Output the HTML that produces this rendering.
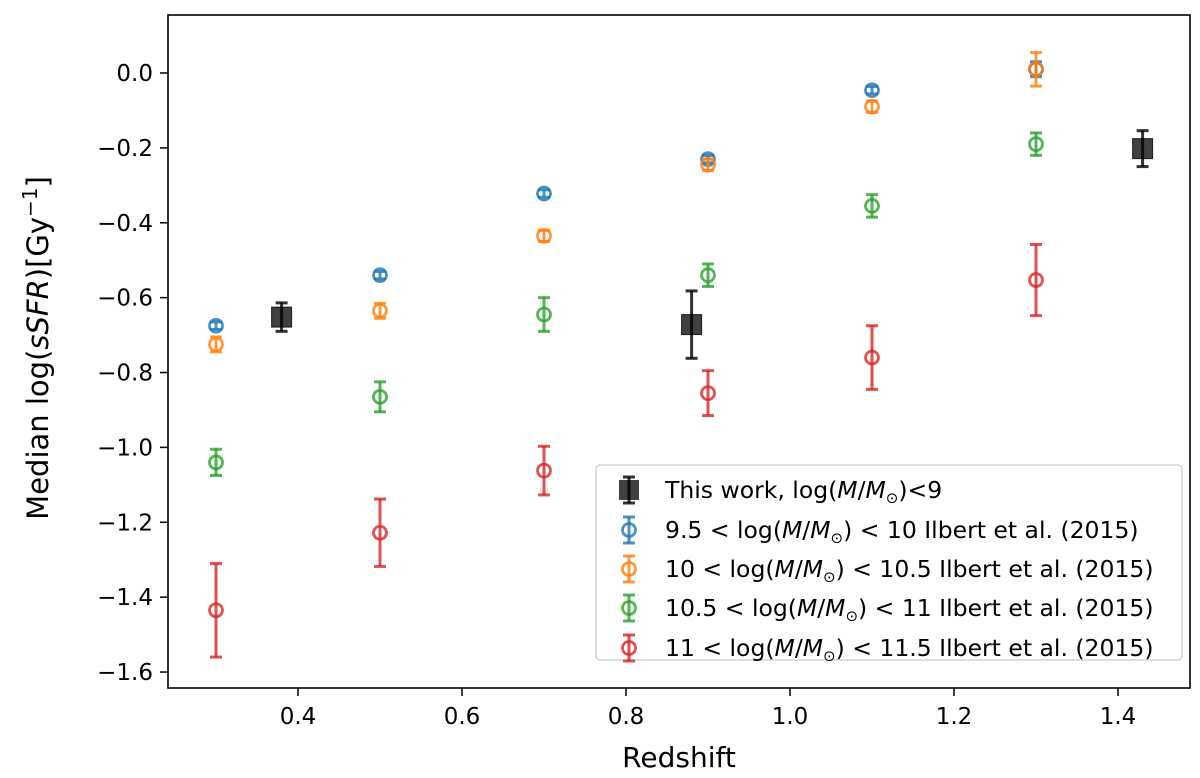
<!DOCTYPE html>
<html><head><meta charset="utf-8"><style>
body{margin:0;background:#fff;}
svg text{font-family:"DejaVu Sans","Liberation Sans",sans-serif;fill:#000;}
</style></head><body>
<svg id="chart" width="1200" height="773" viewBox="0 0 1200 773">
<rect x="168" y="15" width="1022" height="673" fill="none" stroke="#000" stroke-width="1.6"/>
<g id="ticks"></g>
<g id="marks"></g>
<text x="679" y="767" font-size="28" text-anchor="middle">Redshift</text>
<text transform="translate(48,348) rotate(-90)" font-size="29" text-anchor="middle">Median log(<tspan font-style="italic">sSFR</tspan>)[Gy<tspan dy="-11" font-size="20">−1</tspan><tspan dy="11">]</tspan></text>
<g>
<rect x="596" y="465" width="586" height="195" rx="4" fill="#fff" fill-opacity="0.85" stroke="#ccc" stroke-width="1.3"/>
<g id="legend-marks"></g>
<text x="665" y="498" font-size="23.5">This work, log(<tspan font-style="italic">M</tspan>/<tspan font-style="italic">M</tspan><tspan font-size="15" dy="5">⊙</tspan><tspan dy="-5">)&lt;9</tspan></text>
<text x="665" y="538" font-size="23.5">9.5 &lt; log(<tspan font-style="italic">M</tspan>/<tspan font-style="italic">M</tspan><tspan font-size="15" dy="5">⊙</tspan><tspan dy="-5">) &lt; 10 Ilbert et al. (2015)</tspan></text>
<text x="665" y="577" font-size="23.5">10 &lt; log(<tspan font-style="italic">M</tspan>/<tspan font-style="italic">M</tspan><tspan font-size="15" dy="5">⊙</tspan><tspan dy="-5">) &lt; 10.5 Ilbert et al. (2015)</tspan></text>
<text x="665" y="616" font-size="23.5">10.5 &lt; log(<tspan font-style="italic">M</tspan>/<tspan font-style="italic">M</tspan><tspan font-size="15" dy="5">⊙</tspan><tspan dy="-5">) &lt; 11 Ilbert et al. (2015)</tspan></text>
<text x="665" y="656" font-size="23.5">11 &lt; log(<tspan font-style="italic">M</tspan>/<tspan font-style="italic">M</tspan><tspan font-size="15" dy="5">⊙</tspan><tspan dy="-5">) &lt; 11.5 Ilbert et al. (2015)</tspan></text>
</g>
</svg>
<script>
const xTicks=[0.4,0.6,0.8,1.0,1.2,1.4];
const xTickLabels=["0.4","0.6","0.8","1.0","1.2","1.4"];
const yTicks=[0.0,-0.2,-0.4,-0.6,-0.8,-1.0,-1.2,-1.4,-1.6];
const yTickLabels=["0.0","−0.2","−0.4","−0.6","−0.8","−1.0","−1.2","−1.4","−1.6"];
const ilbertZ=[0.3,0.5,0.7,0.9,1.1,1.3];
const blueVals=[-0.675,-0.54,-0.322,-0.23,-0.046,0.01];
const blueErr=[0.01,0.01,0.01,0.01,0.01,0.02];
const orangeVals=[-0.725,-0.635,-0.435,-0.245,-0.09,0.01];
const orangeErr=[0.02,0.02,0.015,0.015,0.015,0.045];
const greenVals=[-1.04,-0.865,-0.645,-0.54,-0.355,-0.19];
const greenErr=[0.035,0.04,0.045,0.03,0.03,0.03];
const redVals=[-1.435,-1.228,-1.062,-0.855,-0.76,-0.553];
const redErr=[0.125,0.09,0.065,0.06,0.085,0.095];
const workZ=[0.38,0.88,1.43];
const workVals=[-0.652,-0.672,-0.202];
const workErr=[0.038,0.09,0.048];

const xs=v=>298+(v-0.4)*820;
const ys=v=>73-v*374.4;
const NS="http://www.w3.org/2000/svg";
function mk(tag,attrs,parent){const e=document.createElementNS(NS,tag);for(const k in attrs)e.setAttribute(k,attrs[k]);parent.appendChild(e);return e;}
const tg=document.getElementById('ticks');
xTicks.forEach((t,i)=>{const x=xs(t);
 const l=mk('line',{x1:x,x2:x,y1:688,y2:696,stroke:'#000','stroke-width':1.5},tg);
 
 
 const tx=mk('text',{x:x,y:724,'font-size':23,'text-anchor':'middle'},tg);tx.textContent=xTickLabels[i];
 
 
});
yTicks.forEach((t,i)=>{const y=ys(t);
 const l=mk('line',{x1:160,x2:168,y1:y,y2:y,stroke:'#000','stroke-width':1.5},tg);
 
 
 const tx=mk('text',{x:153,y:y+8,'font-size':23,'text-anchor':'end'},tg);tx.textContent=yTickLabels[i];
 
 
});
const mg=document.getElementById('marks');
function errbar(g,x,y,e,c,cap){
 const a=ys(y+e),b=ys(y-e);
 mk('line',{x1:x,x2:x,y1:a,y2:b,stroke:c,'stroke-width':3,'stroke-opacity':0.8},g);
 mk('line',{x1:x-cap,x2:x+cap,y1:a,y2:a,stroke:c,'stroke-width':3,'stroke-opacity':0.8},g);
 mk('line',{x1:x-cap,x2:x+cap,y1:b,y2:b,stroke:c,'stroke-width':3,'stroke-opacity':0.8},g);
}
const series=[["blue",blueVals,blueErr,"#1f77b4"],["orange",orangeVals,orangeErr,"#ff7f0e"],["green",greenVals,greenErr,"#2ca02c"],["red",redVals,redErr,"#d62728"]];
series.forEach(s=>{
 ilbertZ.forEach((z,i)=>{
  const g=mk('g',{},mg);
  
  
  const x=xs(z),y=s[1][i];
  errbar(g,x,y,s[2][i],s[3],6);
  mk('circle',{cx:x,cy:ys(y),r:6.5,fill:'none',stroke:s[3],'stroke-width':2.8,'stroke-opacity':0.8},g);
 });
});
workZ.forEach((z,i)=>{
 const g=mk('g',{},mg);
 
 
 const x=xs(z),y=workVals[i];
 errbar(g,x,y,workErr[i],'#000',6);
 mk('rect',{x:x-10,y:ys(y)-10,width:20,height:20,fill:'#000','fill-opacity':0.75,stroke:'#000','stroke-opacity':0.8},g);
});
const lg=document.getElementById('legend-marks');
const lrows=[[490,'#000',1],[530,'#1f77b4',0],[569,'#ff7f0e',0],[608,'#2ca02c',0],[648,'#d62728',0]];
lrows.forEach(r=>{
 const g=mk('g',{},lg);
 
 
 const x=629,y=r[0];
 mk('line',{x1:x,x2:x,y1:y-13,y2:y+13,stroke:r[1],'stroke-width':3,'stroke-opacity':0.8},g);
 mk('line',{x1:x-6,x2:x+6,y1:y-13,y2:y-13,stroke:r[1],'stroke-width':3,'stroke-opacity':0.8},g);
 mk('line',{x1:x-6,x2:x+6,y1:y+13,y2:y+13,stroke:r[1],'stroke-width':3,'stroke-opacity':0.8},g);
 if(r[2])mk('rect',{x:x-10,y:y-10,width:20,height:20,fill:'#000','fill-opacity':0.75},g);
 else mk('circle',{cx:x,cy:y,r:6.5,fill:'none',stroke:r[1],'stroke-width':2.8,'stroke-opacity':0.8},g);
});
</script>
</body></html>
